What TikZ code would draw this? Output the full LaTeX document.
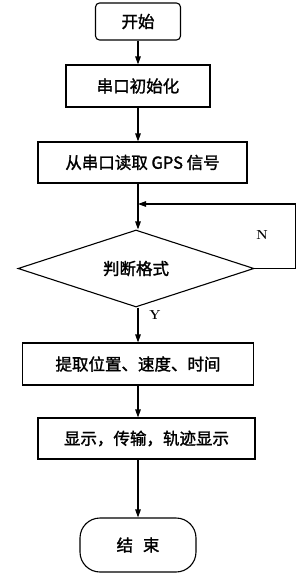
\documentclass[tikz,border=0pt]{standalone}
\usepackage{fontspec}
\newfontfamily\cjk{Noto Sans CJK SC}[FakeBold=1.6]
\usetikzlibrary{shapes.geometric,arrows.meta,positioning}

\begin{document}
\begin{tikzpicture}[x=1pt,y=-1pt,line width=1.1pt,
  >={Triangle[length=8pt,width=5.5pt]},
  terminal/.style={rectangle, draw, rounded corners=4pt, font=\cjk\fontsize{16.5}{18}\selectfont},
  block/.style={rectangle, draw, minimum height=42pt, font=\cjk\fontsize{16.5}{18}\selectfont},
  decision/.style={diamond, draw, aspect=3, inner sep=0pt, minimum width=236pt, minimum height=77pt, font=\cjk\fontsize{16.5}{18}\selectfont},
  branch/.style={font=\bfseries\fontsize{13}{15}\selectfont}
]
\useasboundingbox (0,0) rectangle (300,576);

% main steps
\node[terminal, minimum width=85pt, minimum height=37pt] (start) at (138,21.5) {开始};
\node[block, minimum width=144pt] (init) at (138,86) {串口初始化};
\node[block, minimum width=209pt, minimum height=41pt] (read) at (142.5,162.5) {从串口读取 GPS 信号};
\node[decision] (dec) at (136,268.5) {判断格式};
\node[block, minimum width=231pt] (pick) at (138,364) {提取位置、速度、时间};
\node[block, minimum width=217pt, minimum height=41pt] (show) at (146.5,438.5) {显示，传输，轨迹显示};
\node[terminal, rounded corners=20pt, minimum width=116pt, minimum height=54pt] (finish) at (138,545) {结\hspace{0.6em}束};

% connectors
\draw[->] (start) -- (init);
\draw[->] (init.south) -- (init.south |- read.north);
\draw[->] (read.south -| init.south) -- (init.south |- dec.north);
\coordinate (join) at (138,204);
\draw[->] (dec.east) -- ++(41,0) |- (join);
\draw[->] (init.south |- dec.south) -- (pick.north);
\draw[->] (pick.south) -- (pick.south |- show.north);
\draw[->] (show.south -| pick.south) -- (finish.north);

% branch labels
\node[branch] (nlab) at (262,235) {N};
\node[branch] (ylab) at (155,315) {Y};
\end{tikzpicture}
\end{document}
